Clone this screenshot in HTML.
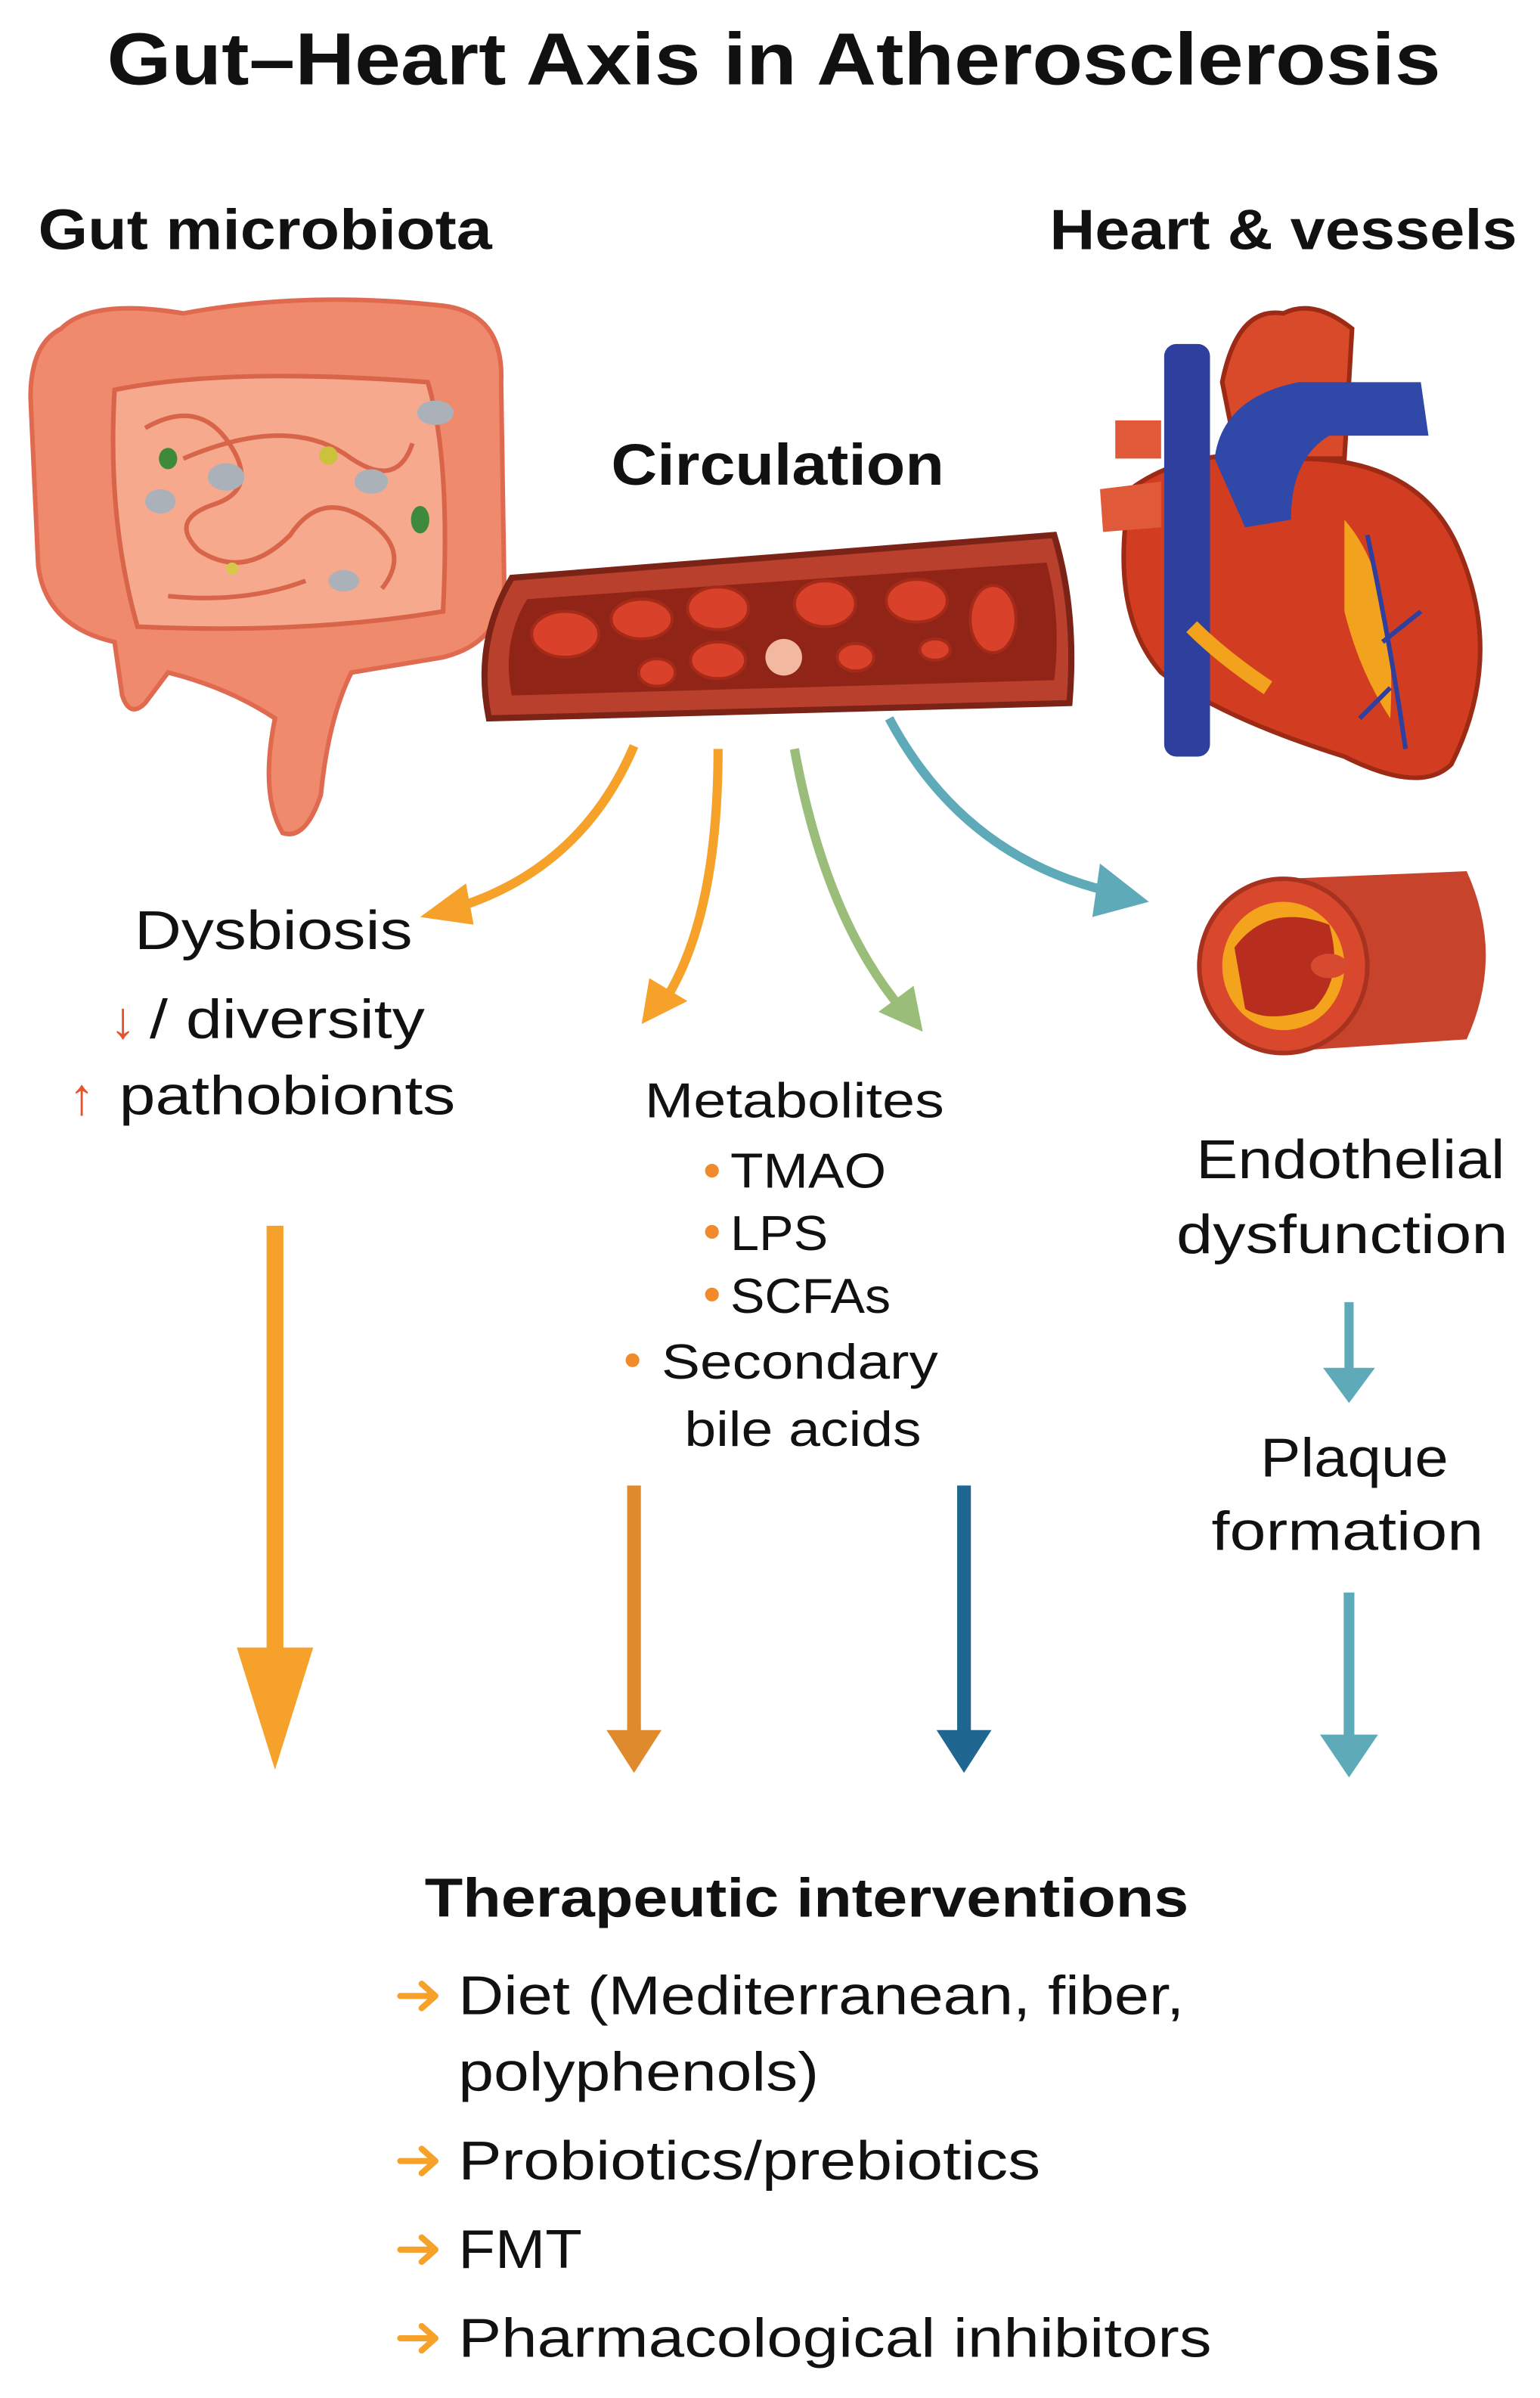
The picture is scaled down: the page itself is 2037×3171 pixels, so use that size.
<!DOCTYPE html>
<html><head><meta charset="utf-8"><style>
html,body{margin:0;padding:0;background:#fff;}
svg{display:block;}
text{font-family:"Liberation Sans","DejaVu Sans",sans-serif;fill:#111;}
</style></head><body>
<svg width="2037" height="3171" viewBox="0 0 1008 1569" xmlns="http://www.w3.org/2000/svg">
<rect width="1008" height="1569" fill="#fff"/>
<text x="70" y="55" font-size="48" font-weight="bold" textLength="873" lengthAdjust="spacingAndGlyphs">Gut–Heart Axis in Atherosclerosis</text>
<text x="25" y="163" font-size="37" font-weight="bold" textLength="297" lengthAdjust="spacingAndGlyphs">Gut microbiota</text>
<text x="687" y="163" font-size="37" font-weight="bold" textLength="306" lengthAdjust="spacingAndGlyphs">Heart &amp; vessels</text>
<text x="400" y="317" font-size="38" font-weight="bold" textLength="218" lengthAdjust="spacingAndGlyphs">Circulation</text>

<g>
<path d="M40 215 Q60 195 120 205 Q200 190 290 200 Q330 205 328 250 L330 380 Q330 420 290 430 L230 440 Q215 470 210 520 Q200 550 185 545 Q170 520 180 470 Q150 450 110 440 L95 460 Q85 470 80 455 L75 420 Q30 410 25 370 L20 260 Q20 225 40 215Z" fill="#f08a6c" stroke="#e06a50" stroke-width="3"/>
<path d="M75 255 Q150 240 280 250 Q295 300 290 400 Q200 415 90 410 Q70 340 75 255Z" fill="#f7a98e" stroke="#d8644a" stroke-width="3"/>
<path d="M95 280 Q130 260 150 290 Q170 320 140 330 Q110 340 130 360 Q160 380 190 350 Q210 320 240 340 Q270 360 250 385 M120 300 Q190 270 230 300 Q260 320 270 290 M110 390 Q160 395 200 380" fill="none" stroke="#d8644a" stroke-width="3"/>
<ellipse cx="148" cy="312" rx="12" ry="9" fill="#aab1b8"/>
<ellipse cx="105" cy="328" rx="10" ry="8" fill="#aab1b8"/>
<ellipse cx="243" cy="315" rx="11" ry="8" fill="#aab1b8"/>
<ellipse cx="285" cy="270" rx="12" ry="8" fill="#aab1b8"/>
<ellipse cx="225" cy="380" rx="10" ry="7" fill="#aab1b8"/>
<ellipse cx="110" cy="300" rx="6" ry="7" fill="#3d8a3d"/>
<ellipse cx="275" cy="340" rx="6" ry="9" fill="#3d8a3d"/>
<ellipse cx="215" cy="298" rx="6" ry="6" fill="#c9c23a"/>
<circle cx="152" cy="372" r="4" fill="#d8c84a"/>
</g>

<g>
<path d="M335 378 L690 350 Q705 400 700 460 L320 470 Q310 420 335 378Z" fill="#b8402c" stroke="#7a2316" stroke-width="4"/>
<path d="M345 392 L685 368 Q695 405 690 445 L335 455 Q328 420 345 392Z" fill="#8f2417"/>
<g fill="#d9412b" stroke="#a62a18" stroke-width="2">
<ellipse cx="370" cy="415" rx="22" ry="15"/><ellipse cx="420" cy="405" rx="20" ry="13"/>
<ellipse cx="470" cy="398" rx="20" ry="14"/><ellipse cx="540" cy="395" rx="20" ry="15"/>
<ellipse cx="600" cy="393" rx="20" ry="14"/><ellipse cx="650" cy="405" rx="15" ry="22"/>
<ellipse cx="430" cy="440" rx="12" ry="9"/><ellipse cx="470" cy="432" rx="18" ry="12"/>
<ellipse cx="560" cy="430" rx="12" ry="9"/><ellipse cx="612" cy="425" rx="10" ry="7"/>
</g>
<circle cx="513" cy="430" r="12" fill="#f3b8a0"/>
</g>

<g>
<path d="M740 320 Q780 290 850 300 Q930 300 955 360 Q985 430 950 500 Q930 520 880 495 Q800 470 760 440 Q725 400 740 320Z" fill="#d23d22" stroke="#9c2a14" stroke-width="3"/>
<path d="M800 250 Q810 200 840 205 Q860 195 885 215 L880 300 L810 300Z" fill="#d84a2a" stroke="#9c2a14" stroke-width="3"/>
<rect x="762" y="225" width="30" height="270" rx="8" fill="#2e3f9e"/>
<path d="M795 300 Q800 260 850 250 L930 250 L935 285 L870 285 Q845 300 845 340 L815 345Z" fill="#3048a8"/>
<path d="M730 275 L760 275 L760 300 L730 300Z M720 320 L760 315 L760 345 L722 348Z" fill="#e05a3a"/>
<path d="M880 340 Q915 380 910 470 Q890 440 880 400Z" fill="#f2a21c"/>
<path d="M780 410 Q800 430 830 450" stroke="#f2a21c" stroke-width="10" fill="none"/>
<path d="M895 350 Q910 420 920 490 M905 420 L930 400 M910 450 L890 470" stroke="#2e3f9e" stroke-width="3" fill="none"/>
</g>

<path d="M415 488 Q380 570 295 595" stroke="#f5a12a" stroke-width="6" fill="none"/>
<polygon points="275,600 305,578 310,605" fill="#f5a12a"/>
<path d="M470 490 Q470 600 435 655" stroke="#f5a12a" stroke-width="6" fill="none"/>
<polygon points="420,670 425,640 450,655" fill="#f5a12a"/>
<path d="M520 490 Q540 600 590 660" stroke="#9bbd7a" stroke-width="6" fill="none"/>
<polygon points="604,675 575,662 598,645" fill="#9bbd7a"/>
<path d="M582 470 Q630 560 725 583" stroke="#5eaab8" stroke-width="6" fill="none"/>
<polygon points="752,590 720,565 715,600" fill="#5eaab8"/>

<text x="88" y="621" font-size="36" textLength="182" lengthAdjust="spacingAndGlyphs">Dysbiosis</text>
<text x="72" y="679" font-size="34" style="fill:#e8542a">↓</text>
<text x="98" y="679" font-size="36" textLength="180" lengthAdjust="spacingAndGlyphs">/ diversity</text>
<text x="45" y="729" font-size="34" style="fill:#e8542a">↑</text>
<text x="78" y="729" font-size="36" textLength="220" lengthAdjust="spacingAndGlyphs">pathobionts</text>

<text x="422" y="731" font-size="32" textLength="196" lengthAdjust="spacingAndGlyphs">Metabolites</text>
<g font-size="32">
<circle cx="466" cy="766" r="4.5" fill="#f08a2a"/><text x="478" y="777" textLength="102" lengthAdjust="spacingAndGlyphs">TMAO</text>
<circle cx="466" cy="806" r="4.5" fill="#f08a2a"/><text x="478" y="818" textLength="64" lengthAdjust="spacingAndGlyphs">LPS</text>
<circle cx="466" cy="847" r="4.5" fill="#f08a2a"/><text x="478" y="859" textLength="105" lengthAdjust="spacingAndGlyphs">SCFAs</text>
<circle cx="414" cy="890" r="4.5" fill="#f08a2a"/><text x="433" y="902" textLength="181" lengthAdjust="spacingAndGlyphs">Secondary</text>
<text x="448" y="946" textLength="155" lengthAdjust="spacingAndGlyphs">bile acids</text>
</g>

<g>
<path d="M840 575 L960 570 Q985 625 960 680 L840 688Z" fill="#c8432c"/>
<ellipse cx="840" cy="632" rx="55" ry="57" fill="#d9482c" stroke="#a83220" stroke-width="3"/>
<ellipse cx="840" cy="632" rx="40" ry="42" fill="#f3a31c"/>
<path d="M808 620 Q830 590 870 605 Q880 640 860 660 Q830 670 815 660Z" fill="#b82e1e"/>
<ellipse cx="870" cy="632" rx="12" ry="8" fill="#d84a30"/>
</g>
<text x="783" y="771" font-size="36" textLength="202" lengthAdjust="spacingAndGlyphs">Endothelial</text>
<text x="770" y="820" font-size="36" textLength="217" lengthAdjust="spacingAndGlyphs">dysfunction</text>
<line x1="883" y1="852" x2="883" y2="897" stroke="#5eaab8" stroke-width="6"/>
<polygon points="866,895 900,895 883,918" fill="#5eaab8"/>
<text x="825" y="966" font-size="36" textLength="123" lengthAdjust="spacingAndGlyphs">Plaque</text>
<text x="793" y="1014" font-size="36" textLength="178" lengthAdjust="spacingAndGlyphs">formation</text>
<line x1="883" y1="1042" x2="883" y2="1140" stroke="#5eaab8" stroke-width="7"/>
<polygon points="864,1135 902,1135 883,1163" fill="#5eaab8"/>

<line x1="180" y1="802" x2="180" y2="1085" stroke="#f5a12a" stroke-width="11"/>
<polygon points="155,1078 205,1078 180,1158" fill="#f5a12a"/>
<line x1="415" y1="972" x2="415" y2="1135" stroke="#e08a2e" stroke-width="9"/>
<polygon points="397,1132 433,1132 415,1160" fill="#e08a2e"/>
<line x1="631" y1="972" x2="631" y2="1135" stroke="#1f6690" stroke-width="9"/>
<polygon points="613,1132 649,1132 631,1160" fill="#1f6690"/>

<text x="278" y="1254" font-size="36" font-weight="bold" textLength="500" lengthAdjust="spacingAndGlyphs">Therapeutic interventions</text>
<g fill="none" stroke="#f5a12a" stroke-width="4" stroke-linecap="round" stroke-linejoin="round">
<path d="M262 1306 H284 M276 1298 L285 1306 L276 1314"/>
<path d="M262 1414 H284 M276 1406 L285 1414 L276 1422"/>
<path d="M262 1472 H284 M276 1464 L285 1472 L276 1480"/>
<path d="M262 1530 H284 M276 1522 L285 1530 L276 1538"/>
</g>
<g font-size="36">
<text x="300" y="1318" textLength="475" lengthAdjust="spacingAndGlyphs">Diet (Mediterranean, fiber,</text>
<text x="300" y="1368" textLength="236" lengthAdjust="spacingAndGlyphs">polyphenols)</text>
<text x="300" y="1426" textLength="381" lengthAdjust="spacingAndGlyphs">Probiotics/prebiotics</text>
<text x="300" y="1484" textLength="81" lengthAdjust="spacingAndGlyphs">FMT</text>
<text x="300" y="1542" textLength="493" lengthAdjust="spacingAndGlyphs">Pharmacological inhibitors</text>
</g>
</svg>
</body></html>
